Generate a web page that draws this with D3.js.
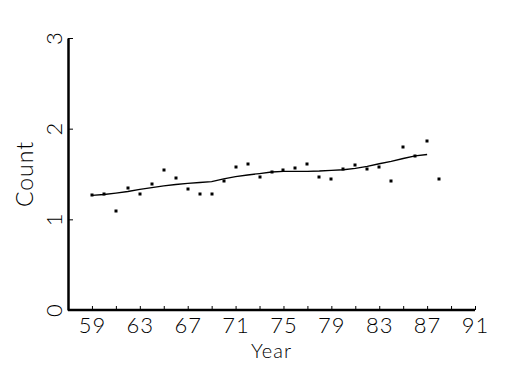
<!DOCTYPE html>
<html>
<head>
<meta charset="utf-8">
<script src="https://cdn.jsdelivr.net/npm/d3@7"></script>
<style>
  body { margin: 0; background: #fff; }
  text { font-family: "Lato", "DejaVu Sans", sans-serif; font-weight: 300; fill: #000; }
</style>
</head>
<body>
<div id="chart"></div>
<script>
const years = d3.range(59, 89);
const counts = [1.265, 1.279, 1.092, 1.342, 1.279, 1.393, 1.541, 1.453, 1.331, 1.279,
                1.276, 1.419, 1.574, 1.610, 1.464, 1.522, 1.544, 1.563, 1.610, 1.470,
                1.441, 1.552, 1.596, 1.552, 1.574, 1.419, 1.794, 1.695, 1.861, 1.448];
const fitYears = d3.range(59, 88);
const fitValues = [1.265, 1.274, 1.290, 1.307, 1.330, 1.350, 1.368, 1.384, 1.397, 1.406,
                   1.417, 1.445, 1.472, 1.489, 1.505, 1.522, 1.530, 1.530, 1.530, 1.533,
                   1.539, 1.547, 1.563, 1.583, 1.613, 1.638, 1.671, 1.699, 1.715];
const xTicks = d3.range(59, 92, 2);
const xLabels = d3.range(59, 92, 4);
const yTicks = [0, 1, 2, 3];

const width = 525, height = 375;

const svg = d3.select("#chart").append("svg")
  .attr("width", width)
  .attr("height", height);

const x = d3.scaleLinear().domain([57, 91]).range([68, 475]);
const y = d3.scaleLinear().domain([0, 3]).range([310, 38]);

// x axis, ticks point inward
const xAxis = svg.append("g")
  .attr("transform", `translate(0,${y(0)})`)
  .call(d3.axisBottom(x).tickValues(xTicks).tickSizeInner(-4).tickSizeOuter(0).tickPadding(7)
    .tickFormat(d => xLabels.includes(d) ? d : ""));
xAxis.select(".domain").attr("stroke-width", 2.5).attr("d", `M${x(57)},0H${x(91)}`);
xAxis.selectAll(".tick line").attr("stroke-width", 1);
xAxis.selectAll("text").attr("font-size", "22px").attr("font-family", null)
  .attr("letter-spacing", "1px");

// y axis, labels rotated
const yAxis = svg.append("g")
  .attr("transform", `translate(${x(57)},0)`)
  .call(d3.axisLeft(y).tickValues(yTicks).tickFormat(d3.format("d")).tickSizeInner(-5).tickSizeOuter(0));
yAxis.select(".domain").attr("stroke-width", 2.5);
yAxis.selectAll("text")
  .attr("font-size", "22px").attr("font-family", null)
  .attr("transform", "rotate(-90)")
  .attr("x", 0).attr("y", -6).attr("dy", 0)
  .attr("text-anchor", "middle");

svg.append("text")
  .attr("x", (x(57) + x(91)) / 2).attr("y", 358)
  .attr("text-anchor", "middle").attr("font-size", "20px")
  .attr("letter-spacing", "1px")
  .text("Year");

svg.append("text")
  .attr("transform", `translate(33,${(y(0) + y(3)) / 2}) rotate(-90)`)
  .attr("text-anchor", "middle").attr("font-size", "23px")
  .attr("letter-spacing", "1px")
  .text("Count");

// smoothed trend
svg.append("path")
  .datum(fitYears.map((yr, i) => [yr, fitValues[i]]))
  .attr("fill", "none").attr("stroke", "#000").attr("stroke-width", 1.3)
  .attr("d", d3.line().x(d => x(d[0])).y(d => y(d[1])));

// observed points
svg.selectAll("rect.pt")
  .data(years.map((yr, i) => [yr, counts[i]]))
  .join("rect")
  .attr("class", "pt")
  .attr("x", d => Math.round(x(d[0])) - 1.5)
  .attr("y", d => Math.round(y(d[1])) - 1.5)
  .attr("width", 3).attr("height", 3)
  .attr("fill", "#000");
</script>
</body>
</html>
